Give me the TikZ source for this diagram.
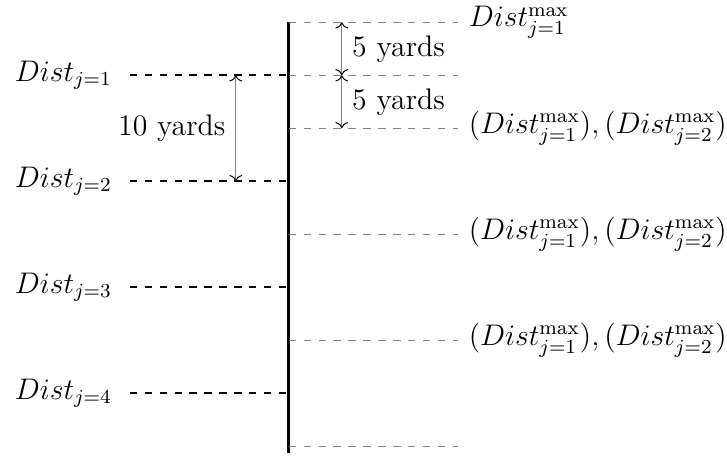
\documentclass[tikz,border=0pt,12pt]{standalone}
\usetikzlibrary{arrows.meta}
\begin{document}
\begin{tikzpicture}[x=7.5mm,y=7.5mm,
  axis/.style={black, line width=1.1pt},
  level/.style={black, thick, dashed},
  bound/.style={gray, dashed},
  gap/.style={gray, {To[black]}-{To[black]}}]
\useasboundingbox (-5.45,-1.19) rectangle (8.27,7.42);
% the field
\coordinate (top) at (0,7);
\coordinate (bottom) at (0,-1.13);
\draw [axis] (top) -- (bottom);
% distances of the players
\coordinate (a1) at (-3,6); \coordinate (b1) at (0,6);
\coordinate (a2) at (-3,4); \coordinate (b2) at (0,4);
\coordinate (a3) at (-3,2); \coordinate (b3) at (0,2);
\coordinate (a4) at (-3,0); \coordinate (b4) at (0,0);
\draw [level] (a1) -- (b1);
\draw [level] (a2) -- (b2);
\draw [level] (a3) -- (b3);
\draw [level] (a4) -- (b4);
\node [left, xshift=-3pt] (dist1) at (a1) {$Dist_{j=1}$};
\node [left, xshift=-3pt] (dist2) at (a2) {$Dist_{j=2}$};
\node [left, xshift=-3pt] (dist3) at (a3) {$Dist_{j=3}$};
\node [left, xshift=-3pt] (dist4) at (a4) {$Dist_{j=4}$};
% maximum distances
\coordinate (m0) at (0,7);  \coordinate (n0) at (3.2,7);
\coordinate (m1) at (0,6);  \coordinate (n1) at (3.2,6);
\coordinate (m2) at (0,5);  \coordinate (n2) at (3.2,5);
\coordinate (m3) at (0,3);  \coordinate (n3) at (3.2,3);
\coordinate (m4) at (0,1);  \coordinate (n4) at (3.2,1);
\coordinate (m5) at (0,-1); \coordinate (n5) at (3.2,-1);
\draw [bound] (m0) -- (n0);
\draw [bound] (m1) -- (n1);
\draw [bound] (m2) -- (n2);
\draw [bound] (m3) -- (n3);
\draw [bound] (m4) -- (n4);
\draw [bound] (m5) -- (n5);
\node [right] (max0) at (n0) {$Dist^{\max}_{j=1}$};
\node [right] (max2) at (n2) {$(Dist^{\max}_{j=1}), (Dist^{\max}_{j=2})$};
\node [right] (max3) at (n3) {$(Dist^{\max}_{j=1}), (Dist^{\max}_{j=2})$};
\node [right] (max4) at (n4) {$(Dist^{\max}_{j=1}), (Dist^{\max}_{j=2})$};
% yards
\coordinate (g1) at (-1,6); \coordinate (g2) at (-1,4);
\coordinate (h0) at (1,7);  \coordinate (h1) at (1,6); \coordinate (h2) at (1,5);
\draw [gap] (g1) -- node [left, black] (ten) {10 yards} (g2);
\draw [gap] (h0) -- node [right, black] (fiveA) {5 yards} (h1);
\draw [gap] (h1) -- node [right, black] (fiveB) {5 yards} (h2);
\end{tikzpicture}
\end{document}
